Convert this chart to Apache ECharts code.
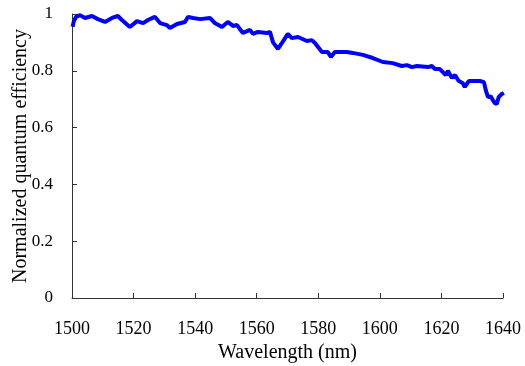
<!DOCTYPE html>
<html>
<head>
<meta charset="utf-8">
<script src="https://cdn.jsdelivr.net/npm/echarts@6/dist/echarts.min.js"></script>
<style>
  html, body { margin: 0; padding: 0; background: #fff; }
  #chart { width: 525px; height: 366px; }
</style>
</head>
<body>
<div id="chart"></div>
<script>
// Longueurs d'onde (nm)
const wavelength = [
  1500.2, 1500.6, 1501.3, 1502.6, 1504.2, 1506.5, 1508.4, 1510.7, 1513.0, 1514.9,
  1516.2, 1518.8, 1521.1, 1523.1, 1524.7, 1526.9, 1528.6, 1530.8, 1531.8, 1534.1,
  1536.7, 1537.7, 1539.3, 1541.6, 1544.8, 1546.4, 1548.7, 1550.6, 1552.3, 1553.6,
  1555.5, 1557.8, 1558.8, 1560.4, 1563.3, 1564.3, 1565.3, 1566.9, 1568.2, 1570.1,
  1571.4, 1573.4, 1576.3, 1577.9, 1578.9, 1581.2, 1583.1, 1584.1, 1585.4, 1589.3,
  1591.2, 1594.5, 1597.7, 1601.0, 1604.2, 1607.1, 1608.8, 1610.4, 1612.0, 1615.6,
  1616.9, 1617.9, 1619.5, 1621.4, 1622.1, 1623.4, 1624.4, 1625.6, 1626.9, 1627.6,
  1628.9, 1632.5, 1633.8, 1634.4, 1635.1, 1636.0, 1636.7, 1637.3, 1638.0, 1638.6,
  1639.6, 1640.3
];

// Efficacité quantique normalisée
const efficiency = [
  0.955, 0.975, 0.99, 0.996, 0.986, 0.993, 0.982, 0.972, 0.986, 0.993,
  0.979, 0.954, 0.975, 0.968, 0.979, 0.99, 0.968, 0.961, 0.951, 0.965,
  0.972, 0.99, 0.986, 0.982, 0.986, 0.968, 0.954, 0.972, 0.958, 0.961,
  0.933, 0.944, 0.93, 0.937, 0.933, 0.937, 0.90, 0.877, 0.898, 0.93,
  0.915, 0.919, 0.905, 0.908, 0.898, 0.866, 0.866, 0.849, 0.866, 0.866,
  0.863, 0.856, 0.845, 0.831, 0.827, 0.817, 0.82, 0.813, 0.817, 0.813,
  0.817, 0.806, 0.806, 0.785, 0.80, 0.775, 0.785, 0.764, 0.757, 0.743,
  0.764, 0.764, 0.76, 0.732, 0.708, 0.71, 0.697, 0.687, 0.683, 0.708,
  0.718, 0.722
];

const xTicks = { min: 1500, max: 1640, interval: 20 };
const yTicks = { min: 0, max: 1, interval: 0.2 };

const font = 'Liberation Serif';
const axisColor = '#333';

const chart = echarts.init(document.getElementById('chart'));

chart.setOption({
  animation: false,
  grid: { left: 72, right: 22, top: 14, bottom: 68, outerBoundsMode: 'none' },
  xAxis: {
    type: 'value',
    min: xTicks.min,
    max: xTicks.max,
    interval: xTicks.interval,
    name: 'Wavelength (nm)',
    nameLocation: 'middle',
    nameGap: 40,
    nameTextStyle: { fontFamily: font, fontSize: 20, color: '#000' },
    axisLine: { lineStyle: { color: axisColor, width: 1 } },
    axisTick: { inside: true, length: 5, lineStyle: { color: axisColor } },
    axisLabel: {
      fontFamily: font, fontSize: 18, color: '#000', margin: 22,
      formatter: v => String(v)
    },
    splitLine: { show: false }
  },
  yAxis: {
    type: 'value',
    min: yTicks.min,
    max: yTicks.max,
    interval: yTicks.interval,
    name: 'Normalized quantum efficiency',
    nameLocation: 'middle',
    nameGap: 41,
    nameMoveOverlap: false,
    nameTextStyle: { fontFamily: font, fontSize: 20, color: '#000' },
    axisLine: { show: true, lineStyle: { color: axisColor, width: 1 } },
    axisTick: { show: true, inside: true, length: 5, lineStyle: { color: axisColor } },
    axisLabel: {
      fontFamily: font, fontSize: 17, color: '#000', margin: 19,
      formatter: v => String(v)
    },
    splitLine: { show: false }
  },
  series: [
    {
      type: 'line',
      data: wavelength.map((w, i) => [w, efficiency[i]]),
      showSymbol: false,
      lineStyle: { color: '#0000ff', width: 4 },
      clip: false
    }
  ]
});
</script>
</body>
</html>
